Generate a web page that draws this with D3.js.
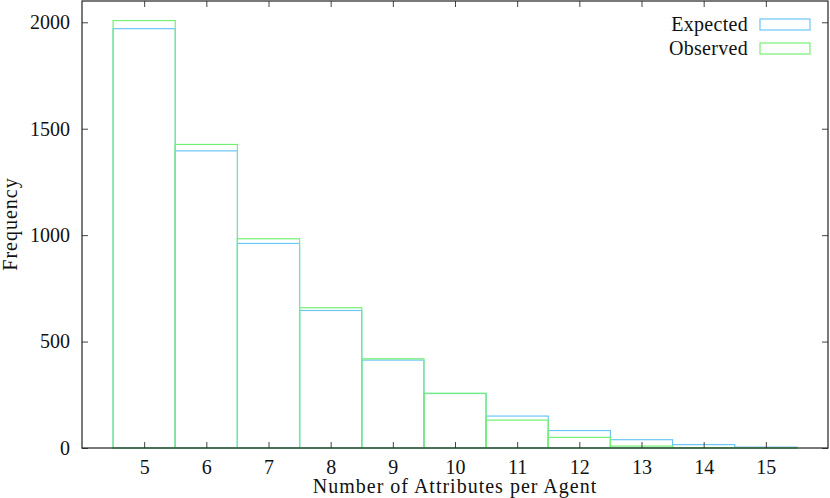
<!DOCTYPE html>
<html>
<head>
<meta charset="utf-8">
<script src="https://cdn.jsdelivr.net/npm/d3@7"></script>
<style>
  body { margin: 0; background: #fff; }
  text { font-family: 'Liberation Serif', 'DejaVu Serif', serif; fill: #111; }
</style>
</head>
<body>
<svg id="chart" width="830" height="498"></svg>
<script>
// number of attributes per agent
const attributes = [5, 6, 7, 8, 9, 10, 11, 12, 13, 14, 15];
const expected = [1970, 1396, 961, 646, 413, 256, 150, 82, 39, 16, 4];
const observed = [2008, 1426, 983, 659, 419, 257, 131, 50, 9, 2, 1];
const yTicks = [0, 500, 1000, 1500, 2000];

const svg = d3.select('#chart');
const margin = { left: 82, right: 2, top: 1, bottom: 50 };
const width = 830 - margin.left - margin.right;
const height = 498 - margin.top - margin.bottom;

const x = d3.scaleLinear().domain([4, 16]).range([margin.left, margin.left + width]);
const y = d3.scaleLinear().domain([0, 2100]).range([margin.top + height, margin.top]);

const g = svg.append('g');

function drawBars(values, color) {
  g.append('g')
    .selectAll('rect')
    .data(values)
    .join('rect')
    .attr('x', (d, i) => x(attributes[i] - 0.5))
    .attr('y', (d) => y(d))
    .attr('width', (d, i) => x(attributes[i] + 0.5) - x(attributes[i] - 0.5))
    .attr('height', (d) => y(0) - y(d))
    .attr('fill', 'none')
    .attr('stroke', color)
    .attr('stroke-width', 1.2);
}

drawBars(expected, '#6cc6f7');
drawBars(observed, '#74f074');

// axes with inward ticks, mirrored on the other side
const tickLen = 6;
svg.append('g')
  .attr('transform', `translate(0,${y(0)})`)
  .call(d3.axisBottom(x).tickValues(attributes).tickSize(-tickLen).tickPadding(12).tickFormat(d3.format('d')))
  .call((s) => s.select('.domain').remove());
svg.append('g')
  .attr('transform', `translate(0,${y(2100)})`)
  .call(d3.axisTop(x).tickValues(attributes).tickSize(-tickLen).tickFormat(''))
  .call((s) => s.select('.domain').remove());
svg.append('g')
  .attr('transform', `translate(${x(4)},0)`)
  .call(d3.axisLeft(y).tickValues(yTicks).tickSize(-tickLen).tickPadding(12).tickFormat(d3.format('d')))
  .call((s) => s.select('.domain').remove());
svg.append('g')
  .attr('transform', `translate(${x(16)},0)`)
  .call(d3.axisRight(y).tickValues(yTicks).tickSize(-tickLen).tickFormat(''))
  .call((s) => s.select('.domain').remove());

svg.selectAll('.tick line').attr('stroke', '#444');
svg.selectAll('.tick text')
  .style('font-family', "'Liberation Serif', 'DejaVu Serif', serif")
  .style('font-size', '20px')
  .attr('fill', '#111');

// frame
svg.append('rect')
  .attr('x', x(4))
  .attr('y', y(2100))
  .attr('width', x(16) - x(4))
  .attr('height', y(0) - y(2100))
  .attr('fill', 'none')
  .attr('stroke', '#222')
  .attr('stroke-width', 1.2);

// axis titles
svg.append('text')
  .attr('x', 455)
  .attr('y', 493)
  .attr('text-anchor', 'middle')
  .style('font-size', '20px')
  .style('letter-spacing', '1px')
  .text('Number of Attributes per Agent');

svg.append('text')
  .attr('transform', 'translate(17,224) rotate(-90)')
  .attr('text-anchor', 'middle')
  .style('font-size', '20px')
  .style('letter-spacing', '1px')
  .text('Frequency');

// legend
const legend = [
  { name: 'Expected', color: '#6cc6f7' },
  { name: 'Observed', color: '#74f074' },
];
const lg = svg.append('g')
  .selectAll('g')
  .data(legend)
  .join('g')
  .attr('transform', (d, i) => `translate(0,${24 + i * 24})`);
lg.append('text')
  .attr('x', 748)
  .attr('y', 7)
  .attr('text-anchor', 'end')
  .style('font-size', '20px')
  .style('letter-spacing', '0.3px')
  .text((d) => d.name);
lg.append('rect')
  .attr('x', 760)
  .attr('y', -5)
  .attr('width', 50)
  .attr('height', 11)
  .attr('fill', 'none')
  .attr('stroke', (d) => d.color)
  .attr('stroke-width', 1.2);
</script>
</body>
</html>
